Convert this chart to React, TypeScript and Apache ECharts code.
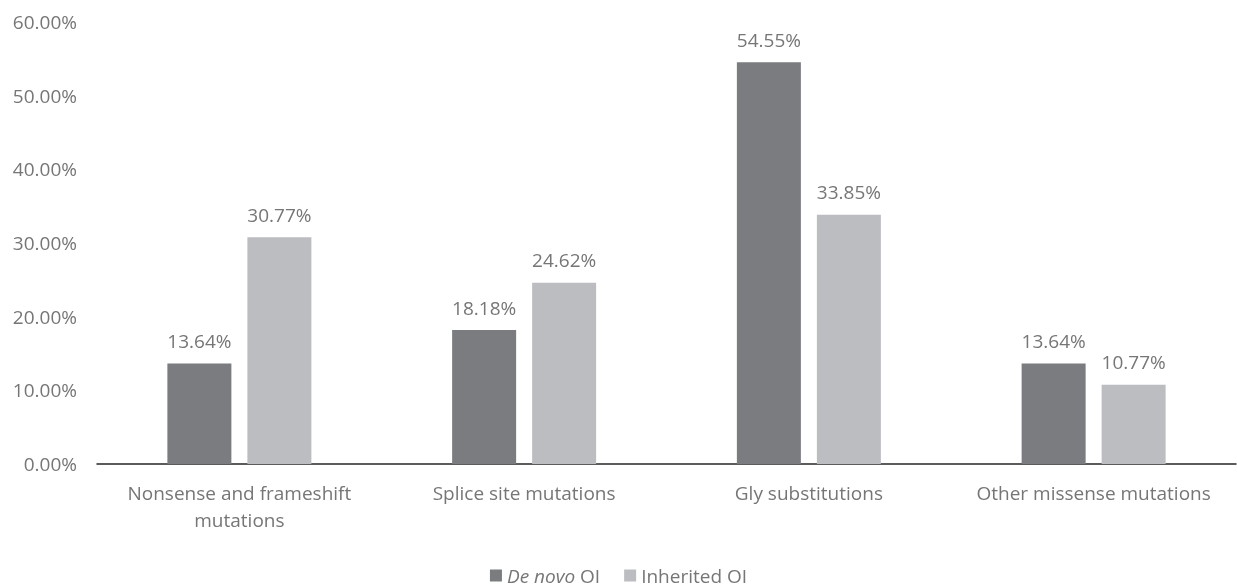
import React, { useEffect, useRef } from "react";
import * as echarts from "echarts";

const categories = [
  "Nonsense and frameshift\nmutations",
  "Splice site mutations",
  "Gly substitutions",
  "Other missense mutations",
];
const deNovo = [13.64, 18.18, 54.55, 13.64];
const inherited = [30.77, 24.62, 33.85, 10.77];
const seriesNames = ["De novo OI", "Inherited OI"];

const FONT = "'Open Sans', 'Liberation Sans', sans-serif";
const TEXT = "#767676";
const FS = 19;

export default function App() {
  const ref = useRef<HTMLDivElement>(null);
  useEffect(() => {
    if (!ref.current) return;
    const chart = echarts.init(ref.current, undefined, { renderer: "svg" });
    const label = {
      show: true,
      position: "top" as const,
      distance: 13,
      color: TEXT,
      fontFamily: FONT,
      fontSize: FS,
      formatter: (p: any) => p.value.toFixed(2) + "%",
    };
    chart.setOption({
      animation: false,
      grid: { left: 97, right: 1, top: 22, bottom: 123, containLabel: false },
      legend: {
        bottom: -3,
        left: "center",
        itemWidth: 12,
        itemHeight: 12,
        itemGap: 24,
        itemStyle: { borderWidth: 0 },
        icon: "rect",
        textStyle: {
          color: TEXT,
          fontFamily: FONT,
          fontSize: FS,
          padding: [0, 0, 0, 0],
          rich: {
            i: { fontStyle: "italic", color: TEXT, fontFamily: FONT, fontSize: FS },
          },
        },
        formatter: (name: string) =>
          name === seriesNames[0] ? "{i|De novo} OI" : name,
      },
      xAxis: {
        type: "category",
        data: categories,
        axisLine: { lineStyle: { color: "#262626", width: 1.5 } },
        axisTick: { show: false },
        axisLabel: {
          color: TEXT,
          fontFamily: FONT,
          fontSize: FS,
          margin: 15,
          lineHeight: 27,
          interval: 0,
        },
      },
      yAxis: {
        type: "value",
        min: 0,
        max: 60,
        interval: 10,
        splitLine: { show: false },
        axisLine: { show: false },
        axisTick: { show: false },
        axisLabel: {
          color: TEXT,
          fontFamily: FONT,
          fontSize: FS,
          margin: 20,
          formatter: (v: number) => v.toFixed(2) + "%",
        },
      },
      series: [
        {
          name: seriesNames[0],
          type: "bar",
          data: deNovo,
          barWidth: 64,
          barGap: "25%",
          itemStyle: { color: "#7b7c80" },
          label,
        },
        {
          name: seriesNames[1],
          type: "bar",
          data: inherited,
          barWidth: 64,
          itemStyle: { color: "#bcbdc1" },
          label,
        },
      ],
    });
    return () => chart.dispose();
  }, []);
  return (
    <div
      ref={ref}
      style={{ position: "fixed", left: 0, top: 0, width: 1237, height: 587 }}
    />
  );
}
